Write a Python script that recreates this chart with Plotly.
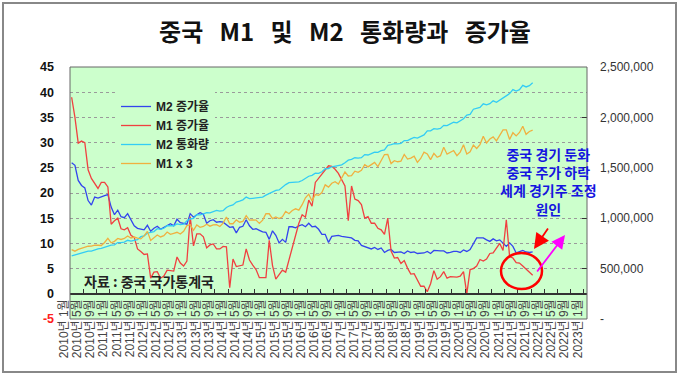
import plotly.graph_objects as go

# ---------------- data (2010-01 .. 2021-09, monthly) ----------------
years_lbl = list(range(2010, 2024))
tick_labels = [f"{y}년 {m}월" for y in years_lbl for m in (1, 5, 9)][:40]

m2_growth = [
    26.0, 25.5, 22.5, 21.5, 21.0, 18.5, 17.6, 19.2, 19.0, 19.3, 19.5, 19.7,
    17.2, 15.7, 16.6, 15.3, 15.1, 15.9, 14.7, 13.5, 13.0, 12.9, 12.7, 13.6,
    12.4, 13.0, 13.4, 12.8, 13.2, 13.6, 13.9, 13.5, 14.8, 14.1, 13.9, 13.8,
    15.9, 15.2, 15.7, 16.1, 15.8, 14.0, 14.5, 14.7, 14.2, 14.3, 14.2, 13.6,
    13.2, 13.3, 12.1, 13.2, 13.4, 14.7, 13.5, 12.8, 12.9, 12.6, 12.3, 12.2,
    10.8, 12.5, 11.6, 10.1, 10.8, 10.2, 13.3, 13.3, 13.1, 13.5, 13.7, 13.3,
    14.0, 13.3, 13.4, 12.8, 11.8, 11.8, 10.2, 11.4, 11.5, 11.6, 11.4, 11.3,
    11.3, 11.1, 10.6, 10.5, 9.6, 9.4, 9.2, 8.9, 9.2, 8.8, 9.1, 8.2,
    8.6, 8.8, 8.2, 8.3, 8.3, 8.0, 8.5, 8.2, 8.3, 8.0, 8.0, 8.1,
    8.4, 8.0, 8.6, 8.5, 8.5, 8.5, 8.1, 8.2, 8.4, 8.4, 8.2, 8.7,
    8.4, 8.8, 10.1, 11.1, 11.1, 11.1, 10.7, 10.4, 10.9, 10.5, 10.7, 10.1,
    9.4, 10.1, 9.4, 8.1, 8.3, 8.6, 8.3, 8.2, 8.3,
]

m1_growth = [
    39.0, 35.0, 29.9, 30.3, 30.0, 24.6, 22.9, 21.9, 20.9, 22.1, 22.1, 21.2,
    13.8, 14.5, 15.0, 12.9, 12.7, 13.1, 11.6, 11.2, 8.9, 8.4, 7.8, 7.9,
    3.1, 4.3, 4.4, 3.1, 3.5, 4.7, 4.6, 4.5, 7.3, 6.1, 5.5, 6.5,
    15.3, 9.5, 11.9, 11.9, 11.3, 9.1, 9.7, 9.9, 8.9, 8.9, 9.4, 9.3,
    1.2, 6.9, 5.4, 5.5, 5.7, 8.9, 6.7, 5.7, 4.8, 3.2, 3.2, 3.2,
    10.6, 5.6, 2.9, 3.7, 4.7, 4.3, 6.6, 9.3, 11.4, 14.0, 15.7, 15.2,
    18.6, 17.4, 22.1, 22.9, 23.7, 24.6, 25.4, 25.3, 24.7, 23.9, 22.7, 21.4,
    14.5, 21.4, 18.8, 18.5, 17.7, 15.0, 15.3, 14.0, 14.0, 13.0, 12.7, 11.8,
    15.0, 8.5, 7.1, 7.2, 6.0, 6.6, 5.1, 3.9, 4.0, 2.7, 1.5, 1.5,
    0.4, 2.0, 4.6, 2.9, 3.4, 4.4, 3.1, 3.4, 3.4, 3.3, 3.5, 4.4,
    0.0, 4.8, 5.0, 5.5, 6.8, 6.5, 6.9, 8.0, 8.1, 9.1, 10.0, 8.6,
    14.7, 7.4, 7.1, 6.2, 6.1, 5.5, 4.9, 4.2, 3.7,
]

m2_level = [
    625609, 636072, 649947, 656562, 663351, 673922, 674051, 687507, 696472, 699776, 710339, 725852,
    733885, 736131, 758131, 757385, 763410, 780821, 772923, 780853, 787406, 816829, 825494, 851591,
    855898, 867171, 895565, 889605, 900049, 924991, 925375, 924893, 943688, 936404, 940000, 974159,
    992129, 998600, 1035858, 1032552, 1042169, 1054403, 1052212, 1061256, 1077379, 1070242, 1074095, 1106525,
    1123521, 1131760, 1160687, 1168813, 1182300, 1209588, 1194249, 1197499, 1202051, 1199236, 1208616, 1228375,
    1242710, 1257384, 1275333, 1280000, 1308000, 1333375, 1353211, 1356881, 1359824, 1361022, 1374000, 1392278,
    1416319, 1424619, 1446198, 1445000, 1461000, 1490492, 1491560, 1510000, 1516360, 1519490, 1530000, 1550067,
    1575945, 1582911, 1599617, 1596000, 1601000, 1631282, 1627000, 1640000, 1655662, 1653000, 1670000, 1676769,
    1722000, 1729000, 1739000, 1737000, 1743000, 1770000, 1769000, 1787000, 1801665, 1795000, 1813000, 1826744,
    1865935, 1867000, 1889000, 1884000, 1891000, 1921000, 1919000, 1935000, 1952000, 1946000, 1963000, 1986489,
    2023000, 2030000, 2080900, 2093000, 2100000, 2134900, 2125000, 2136000, 2164100, 2149700, 2172000, 2186800,
    2213000, 2236000, 2276000, 2262000, 2275000, 2317800, 2302000, 2315000, 2342800,
]

m1_level = [
    229589, 224286, 229970, 233062, 236600, 240580, 240665, 244340, 243822, 243000, 253000, 266622,
    252000, 256800, 266300, 263000, 266300, 274700, 268000, 271000, 267200, 264900, 274700, 289848,
    260000, 268000, 278000, 271300, 275700, 287500, 280000, 283300, 286800, 281000, 290000, 308664,
    312000, 293500, 311000, 303000, 306000, 313500, 307000, 311000, 312000, 306000, 317000, 337291,
    314900, 315000, 327700, 320000, 323000, 341500, 327000, 328000, 327000, 316000, 327000, 348056,
    348000, 332000, 337200, 332000, 338000, 356000, 348000, 359000, 364400, 360000, 378000, 400953,
    413000, 390000, 411600, 409000, 418000, 443600, 436000, 449000, 454000, 446000, 464000, 486557,
    473000, 474000, 488800, 485000, 492000, 510300, 503000, 512000, 517900, 504000, 523000, 543790,
    544000, 514000, 523500, 520000, 522000, 544000, 529000, 532000, 538600, 518000, 531000, 551686,
    545600, 527200, 547600, 535000, 540000, 567700, 545000, 551000, 557100, 540000, 552000, 576009,
    545500, 552700, 575100, 564000, 576900, 604300, 582000, 595000, 602300, 589000, 607000, 625581,
    625600, 593500, 616100, 605400, 616800, 637500, 610700, 620000, 624600,
]
m1_x3 = [v * 3 for v in m1_level]
months = list(range(len(m2_growth)))

left_ticks = [-5, 0, 5, 10, 15, 20, 25, 30, 35, 40, 45]
right_ticks = [0, 500000, 1000000, 1500000, 2000000, 2500000]
right_text = ["-", "500,000", "1,000,000", "1,500,000", "2,000,000", "2,500,000"]

# ---------------- figure ----------------
L, R, T, B = 70, 587, 67, 319
W, H = 679, 377
def px(x): return (x - L) / (R - L)
def py(y): return (B - y) / (B - T)

FONT = "Liberation Sans, Noto Sans CJK KR, sans-serif"
KFONT = "Noto Sans CJK KR, Liberation Sans, sans-serif"
NB = "\u00a0"

fig = go.Figure()
fig.add_trace(go.Scatter(x=months, y=m2_growth, name="M2 증가율", mode="lines",
                         line=dict(color="#3344ee", width=1.3)))
fig.add_trace(go.Scatter(x=months, y=m1_growth, name="M1 증가율", mode="lines",
                         line=dict(color="#f04040", width=1.3)))
fig.add_trace(go.Scatter(x=months, y=m2_level, name="M2 통화량", mode="lines", yaxis="y2",
                         line=dict(color="#33ccf5", width=1.3)))
fig.add_trace(go.Scatter(x=months, y=m1_x3, name="M1 x 3", mode="lines", yaxis="y2",
                         line=dict(color="#f0b040", width=1.3)))

tickvals_x = [-0.5 + 4 * k for k in range(len(tick_labels))]

title_txt = (NB * 3).join(["중국", "M1", "및", "M2", "통화량과", "증가율"])

fig.update_layout(
    width=W, height=H,
    margin=dict(l=L, r=W - R, t=T, b=H - B, autoexpand=False),
    paper_bgcolor="white", plot_bgcolor="#ccffcc",
    font=dict(family=FONT, color="#222"),
    title=dict(text=title_txt, x=345 / W, xanchor="center",
               y=1 - 33 / H, yanchor="middle",
               font=dict(family=KFONT, size=24, color="#111", weight="bold")),
    xaxis=dict(range=[-0.5, 156.5], anchor="free", position=0.1, automargin=False,
               showline=True, linecolor="#333", linewidth=1.5,
               tickmode="array", tickvals=tickvals_x, ticktext=tick_labels,
               ticks="inside", ticklen=4, tickcolor="#333", tickangle=-90,
               ticklabelshift=-6,
               tickfont=dict(size=12, color="#444", family=FONT),
               showgrid=False, zeroline=False),
    yaxis=dict(range=[-5, 45], tickmode="array", tickvals=left_ticks, automargin=False,
               ticktext=['<span style="color:#ff2020">-5</span>' if v == -5 else str(v) for v in left_ticks],
               ticks="", ticklabelstandoff=15,
               tickfont=dict(size=12.5, color="#111", family=FONT, weight="bold"),
               showgrid=True, gridcolor="#9a9a9a", griddash="dot", gridwidth=1,
               zeroline=False, showline=False),
    yaxis2=dict(range=[0, 2500000], overlaying="y", side="right", automargin=False,
                tickmode="array", tickvals=right_ticks, ticktext=right_text,
                ticks="inside", ticklen=5, tickcolor="#333", ticklabelstandoff=12,
                tickfont=dict(size=12, color="#333", family=FONT),
                showgrid=False, zeroline=False, showline=False),
    legend=dict(x=px(116), y=py(92), xanchor="left", yanchor="top",
                bgcolor="#ccffcc", borderwidth=0,
                font=dict(size=12, color="#222", family=FONT, weight="bold")),
    showlegend=True,
)

shapes = [
    dict(type="rect", xref="paper", yref="paper", x0=0, x1=1, y0=0, y1=1,
         line=dict(color="#666", width=1)),
    dict(type="rect", xref="paper", yref="paper", x0=px(3), x1=px(676), y0=py(372), y1=py(3),
         line=dict(color="#888", width=2)),
    dict(type="circle", xref="paper", yref="paper", x0=px(501), x1=px(542), y0=py(289), y1=py(253),
         line=dict(color="#ff0000", width=2.5)),
]
fig.update_layout(shapes=shapes)

note_lines = ["중국 경기 둔화", "중국 주가 하락", "세계 경기주 조정", "원인"]
ann = [
    dict(text="자료 : 중국 국가통계국", x=px(82), y=py(281), xanchor="left", yanchor="middle",
         font=dict(size=14, color="#222", family=KFONT, weight="bold")),
    dict(text="<br>".join(note_lines), x=px(548), y=py(181), xanchor="center", yanchor="middle",
         align="center",
         font=dict(size=14, color="#1515e0", family=KFONT, weight="bold")),
    dict(text="", x=px(534), y=py(249), ax=15, ay=-22, showarrow=True,
         arrowhead=2, arrowsize=1.7, arrowwidth=1.8, arrowcolor="#ff0000"),
    dict(text="", x=px(565), y=py(235), ax=-29, ay=38, showarrow=True,
         arrowhead=2, arrowsize=1.5, arrowwidth=1.8, arrowcolor="#ff00ff"),
]
for a in ann:
    a.setdefault("xref", "paper")
    a.setdefault("yref", "paper")
    a.setdefault("showarrow", False)
fig.update_layout(annotations=ann)

fig.write_html("out.html", config={"displayModeBar": False},
               post_script="document.body.style.margin='0';")
